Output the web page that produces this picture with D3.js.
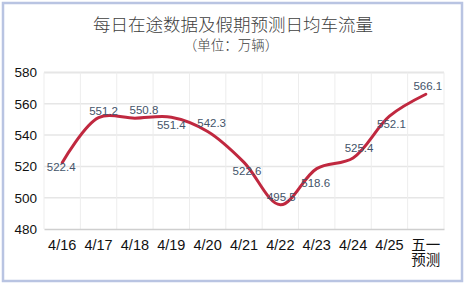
<!DOCTYPE html>
<html>
<head>
<meta charset="utf-8">
<script src="https://cdn.jsdelivr.net/npm/d3@7"></script>
<style>
  body { margin: 0; background: #fff; }
  text { font-family: "Liberation Sans", "Noto Sans CJK SC", sans-serif; }
</style>
</head>
<body>
<div id="chart"></div>
<script>
// chart data
const days = ["4/16", "4/17", "4/18", "4/19", "4/20", "4/21", "4/22", "4/23", "4/24", "4/25", "五一\n预测"];
const traffic = [522.4, 551.2, 550.8, 551.4, 542.3, 522.6, 495.5, 518.6, 525.4, 552.1, 566.1];
const yTicks = [480, 500, 520, 540, 560, 580];

// where each value label sits relative to its point [dx, dy]
const labelOffsets = [[-1, 8], [5, -3], [9, -4], [0, 12], [4, -5], [3, 13],
                      [1, -4], [-1, 18], [6, -6], [2, 12], [2, -4]];

const W = 465, H = 284;
const margin = {top: 72.5, right: 21, bottom: 55, left: 44};
const width = W - margin.left - margin.right;
const height = H - margin.top - margin.bottom;

const svg = d3.select("#chart").append("svg")
    .attr("width", W).attr("height", H);

// outer frame
svg.append("rect")
    .attr("x", 3).attr("y", 3)
    .attr("width", W - 6).attr("height", H - 6)
    .attr("fill", "#fff")
    .attr("stroke", "#b9c4e2").attr("stroke-width", 2.5);

svg.append("text")
    .attr("x", 233).attr("y", 31)
    .attr("text-anchor", "middle")
    .attr("font-size", 17.5).attr("fill", "#404040")
    .attr("font-weight", 300)
    .style("font-family", "'Noto Sans CJK SC', sans-serif")
    .text("每日在途数据及假期预测日均车流量");

svg.append("text")
    .attr("x", 231).attr("y", 50)
    .attr("text-anchor", "middle")
    .attr("font-size", 13.5).attr("fill", "#404040")
    .attr("font-weight", 300)
    .style("font-family", "'Noto Sans CJK SC', sans-serif")
    .text("（单位：万辆）");

const g = svg.append("g")
    .attr("transform", `translate(${margin.left},${margin.top})`);

const x = d3.scaleBand().domain(days).range([0, width]);
const y = d3.scaleLinear().domain([480, 580]).range([height, 0]);

// horizontal grid
g.append("g")
  .selectAll("line")
  .data(yTicks.slice(1))
  .join("line")
    .attr("x1", 0).attr("x2", width)
    .attr("y1", d => y(d)).attr("y2", d => y(d))
    .attr("stroke", "#e6e6e6")
    .attr("stroke-width", d => d == 580 ? 2 : 1.5);

// vertical grid at band edges
g.append("g")
  .selectAll("line")
  .data(days)
  .join("line")
    .attr("x1", d => x(d) + x.bandwidth()).attr("x2", d => x(d) + x.bandwidth())
    .attr("y1", 0).attr("y2", height)
    .attr("stroke", "#ededed").attr("stroke-width", 1);

g.append("line")
    .attr("x1", 0).attr("x2", 0)
    .attr("y1", 0).attr("y2", height)
    .attr("stroke", "#ededed");

const yAxis = g.append("g")
    .call(d3.axisLeft(y).tickValues(yTicks).tickSize(0).tickPadding(7));
yAxis.select(".domain").remove();
yAxis.selectAll("text").attr("font-size", 13.5).attr("fill", "#111")
    .style("font-family", "'Liberation Sans', sans-serif");

const xAxis = g.append("g")
    .attr("transform", `translate(0,${height})`)
    .call(d3.axisBottom(x).tickSize(0).tickFormat(""));
xAxis.select(".domain").attr("stroke", "#cfcfcf").attr("stroke-width", 1.5);

// category labels, split on newline
xAxis.selectAll(".tick").each(function(d) {
  const t = d3.select(this).append("text")
      .attr("fill", "#111").attr("font-size", 14.5)
      .attr("text-anchor", "middle");
  d.split("\n").forEach((part, i) => {
    t.append("tspan").attr("x", 0).attr("y", 21 + i * 15).text(part);
  });
});

const line = d3.line()
    .x((d, i) => x(days[i]) + x.bandwidth() / 2)
    .y(d => y(d))
    .curve(d3.curveCatmullRom.alpha(0.5));

g.append("path")
    .datum(traffic)
    .attr("d", line)
    .attr("fill", "none")
    .attr("stroke", "#c0283f")
    .attr("stroke-width", 3)
    .attr("stroke-linecap", "round");

g.append("g")
  .selectAll("text")
  .data(traffic)
  .join("text")
    .attr("x", (d, i) => x(days[i]) + x.bandwidth() / 2 + labelOffsets[i][0])
    .attr("y", (d, i) => y(d) + labelOffsets[i][1])
    .attr("text-anchor", "middle")
    .attr("font-size", 11.5)
    .attr("fill", "#44546a")
    .text(d => d.toFixed(1));
</script>
</body>
</html>
